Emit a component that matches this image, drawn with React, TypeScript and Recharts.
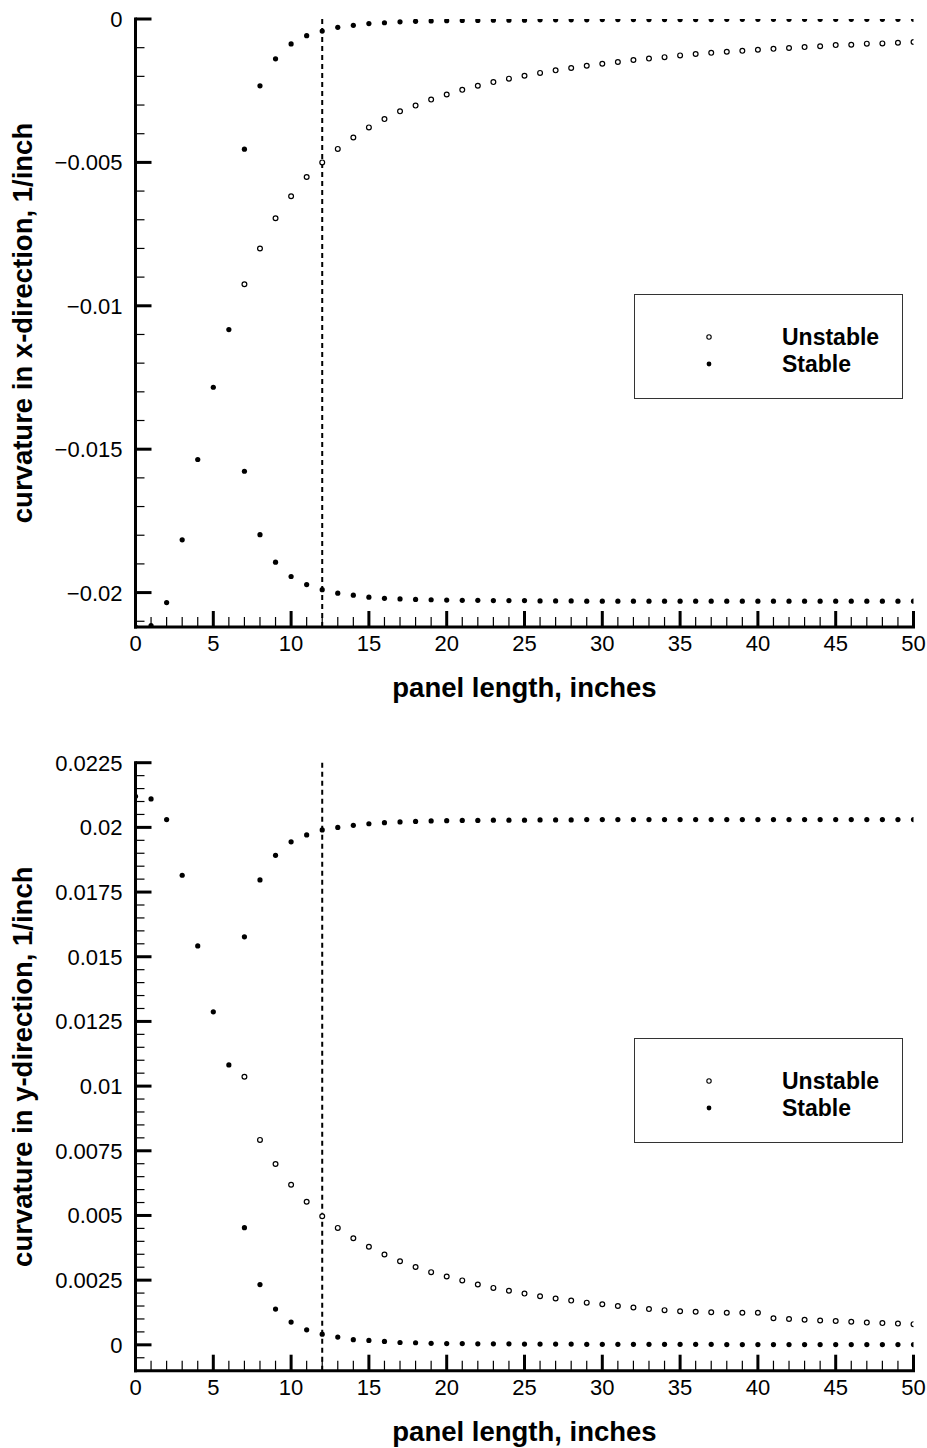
import React from 'react';
import { ScatterChart, Scatter, XAxis, YAxis, ReferenceLine, Legend, Label } from 'recharts';

// panel length, inches (x values of every point)
const panelLength = [
  0, 1, 2, 3, 4, 5, 6, 7, 8, 9, 10, 11, 12, 13, 14, 15, 16, 17, 18, 19, 20, 21, 22, 23, 24, 25,
  26, 27, 28, 29, 30, 31, 32, 33, 34, 35, 36, 37, 38, 39, 40, 41, 42, 43, 44, 45, 46, 47, 48, 49, 50,
];
// the two extra branches start at 7 inches
const branchLength = panelLength.slice(7);

// x-direction curvature, stable main branch (0..50 in)
const stableMainX = [
  -0.0212, -0.02115, -0.02035, -0.01816, -0.01536, -0.01284, -0.01083, -0.01577, -0.01798, -0.01894,
  -0.01944, -0.01972, -0.0199, -0.02002, -0.02009, -0.02016, -0.0202, -0.02022, -0.02024, -0.02025,
  -0.02026, -0.02027, -0.02027, -0.02028, -0.02028, -0.02028, -0.02029, -0.02029, -0.02029, -0.0203,
  -0.0203, -0.0203, -0.0203, -0.0203, -0.0203, -0.0203, -0.0203, -0.0203, -0.0203, -0.0203,
  -0.0203, -0.0203, -0.0203, -0.0203, -0.0203, -0.0203, -0.0203, -0.0203, -0.0203, -0.0203, -0.0203,
];
// x-direction curvature, stable branch near zero (7..50 in)
const stableBranchX = [
  -0.00454, -0.00233, -0.00139, -0.00087, -0.00058, -0.00042, -0.00029, -0.00022, -0.00016, -0.00013,
  -0.0001, -0.00008, -0.00007, -0.00006, -0.00005, -0.00005, -0.00004, -0.00004, -0.00004, -0.00003,
  -0.00003, -0.00003, -0.00003, -0.00002, -0.00002, -0.00002, -0.00002, -0.00002, -0.00002, -0.00002,
  -0.00002, -0.00001, -0.00001, -0.00001, -0.00001, -0.00001, -0.00001, -0.00001, -0.00001, -0.00001,
  -0.00001, -0.00001, -0.00001, -0.00001,
];
// x-direction curvature, unstable branch (7..50 in)
const unstableX = [
  -0.00925, -0.008, -0.00695, -0.00618, -0.00551, -0.005, -0.00453, -0.00413, -0.00378, -0.00349,
  -0.00322, -0.00302, -0.00281, -0.00263, -0.00247, -0.00233, -0.0022, -0.00208, -0.00198, -0.00188,
  -0.00179, -0.00171, -0.00163, -0.00156, -0.0015, -0.00143, -0.00138, -0.00133, -0.00127, -0.00122,
  -0.00118, -0.00114, -0.00111, -0.00107, -0.00104, -0.00101, -0.00098, -0.00095, -0.00091, -0.0009,
  -0.00086, -0.00085, -0.00083, -0.0008,
];

// y-direction curvature, stable main branch (0..50 in)
const stableMainY = [
  0.0212, 0.0211, 0.0203, 0.01815, 0.01542, 0.01287, 0.01082, 0.01577, 0.01797, 0.01892,
  0.01944, 0.01971, 0.0199, 0.02, 0.02008, 0.02014, 0.02018, 0.02021, 0.02023, 0.02025,
  0.02026, 0.02027, 0.02027, 0.02028, 0.02028, 0.02028, 0.02029, 0.02029, 0.02029, 0.0203,
  0.0203, 0.0203, 0.0203, 0.0203, 0.0203, 0.0203, 0.0203, 0.0203, 0.0203, 0.0203,
  0.0203, 0.0203, 0.0203, 0.0203, 0.0203, 0.0203, 0.0203, 0.0203, 0.0203, 0.0203, 0.0203,
];
// y-direction curvature, stable branch near zero (7..50 in)
const stableBranchY = [
  0.00453, 0.00233, 0.00138, 0.00088, 0.00058, 0.00041, 0.0003, 0.0002, 0.00017, 0.00013,
  0.00009, 0.00008, 0.00006, 0.00005, 0.00005, 0.00004, 0.00004, 0.00004, 0.00003, 0.00003,
  0.00003, 0.00003, 0.00002, 0.00002, 0.00002, 0.00002, 0.00002, 0.00002, 0.00002, 0.00002,
  0.00002, 0.00001, 0.00001, 0.00001, 0.00001, 0.00001, 0.00001, 0.00001, 0.00001, 0.00001,
  0.00001, 0.00001, 0.00001, 0.00001,
];
// y-direction curvature, unstable branch (7..50 in)
const unstableY = [
  0.01036, 0.00792, 0.00699, 0.00619, 0.00553, 0.00497, 0.00452, 0.00412, 0.00379, 0.00349,
  0.00323, 0.00301, 0.00281, 0.00264, 0.00249, 0.00233, 0.0022, 0.00209, 0.00198, 0.00188,
  0.00179, 0.00171, 0.00163, 0.00157, 0.0015, 0.00144, 0.00138, 0.00134, 0.0013, 0.00128,
  0.00126, 0.00124, 0.00124, 0.00124, 0.00103, 0.001, 0.00097, 0.00094, 0.00092, 0.00089,
  0.00086, 0.00084, 0.00082, 0.0008,
];

const seriesNames = ['Unstable', 'Stable'];

// ticks
const xMajorTicks = [0, 5, 10, 15, 20, 25, 30, 35, 40, 45, 50];
const xMinorTicks = panelLength.filter((v) => v % 5 !== 0);
const yMajorTicksX = [0, -0.005, -0.01, -0.015, -0.02];
const yMajorLabelsX = ['0', '\u22120.005', '\u22120.01', '\u22120.015', '\u22120.02'];
const yMajorTicksY = [0, 0.0025, 0.005, 0.0075, 0.01, 0.0125, 0.015, 0.0175, 0.02, 0.0225];
const yMajorLabelsY = ['0', '0.0025', '0.005', '0.0075', '0.01', '0.0125', '0.015', '0.0175', '0.02', '0.0225'];

const dividerLength = 12; // dashed line position, inches

const FONT = "'Liberation Sans', Arial, Helvetica, sans-serif";
const PLOT_HEIGHT = 608;
const TICK_FONT = 22;
const TITLE_FONT = 27.5;

function minorTicks(majors: number[], step: number, lo: number, hi: number) {
  const out: number[] = [];
  for (let k = Math.ceil(lo / step); k <= Math.floor(hi / step); k++) {
    const v = k * step;
    if (!majors.some((m) => Math.abs(m - v) < step / 10)) out.push(v);
  }
  return out;
}

const toPoints = (xs: number[], ys: number[]) => ys.map((y, i) => ({ x: xs[i], y }));

function findMajor(majors: number[], value: number) {
  return majors.findIndex((m) => Math.abs(m - value) < 1e-7);
}

function XTick(props: any) {
  const { x, y, payload } = props;
  const idx = findMajor(xMajorTicks, payload.value);
  const major = idx >= 0;
  return (
    <g>
      <line x1={x} x2={x} y1={y} y2={y - (major ? 16 : 10)} stroke="#000" strokeWidth={major ? 3 : 1.2} />
      {major && (
        <text x={x} y={y + 24} textAnchor="middle" fontFamily={FONT} fontSize={TICK_FONT} fill="#000">
          {String(xMajorTicks[idx])}
        </text>
      )}
    </g>
  );
}

function YTick(props: any) {
  const { x, y, payload, majors, labels } = props;
  const idx = findMajor(majors, payload.value);
  const major = idx >= 0;
  return (
    <g>
      <line x1={x} x2={x + (major ? 16 : 9)} y1={y} y2={y} stroke="#000" strokeWidth={major ? 3 : 1.2} />
      {major && (
        <text x={x - 13} y={y} dy="0.36em" textAnchor="end" fontFamily={FONT} fontSize={TICK_FONT} fill="#000">
          {labels[idx]}
        </text>
      )}
    </g>
  );
}

const openDot = (p: any) => <circle cx={p.cx} cy={p.cy} r={2.4} fill="#fff" stroke="#000" strokeWidth={1.2} />;
const filledDot = (p: any) => <circle cx={p.cx} cy={p.cy} r={2.6} fill="#000" />;

function LegendBox() {
  return (
    <div
      style={{
        width: 269,
        height: 105,
        boxSizing: 'border-box',
        border: '1px solid #333',
        background: '#fff',
      }}
    >
      <svg width={267} height={103} style={{ display: 'block' }}>
        <circle cx={74} cy={42} r={2.2} fill="#fff" stroke="#000" strokeWidth={1.1} />
        <circle cx={74} cy={69} r={2.4} fill="#000" />
        <text x={147} y={42} dy="0.36em" fontFamily={FONT} fontWeight="bold" fontSize={23} fill="#000">
          {seriesNames[0]}
        </text>
        <text x={147} y={69} dy="0.36em" fontFamily={FONT} fontWeight="bold" fontSize={23} fill="#000">
          {seriesNames[1]}
        </text>
      </svg>
    </div>
  );
}

type PanelProps = {
  top: number;
  height: number;
  marginTop: number;
  domain: [number, number];
  majors: number[];
  labels: string[];
  minorStep: number;
  title: string;
  stableMain: number[];
  stableBranch: number[];
  unstable: number[];
  legendTop: number;
};

function CurvaturePanel(props: PanelProps) {
  const { top, height, marginTop, domain, majors, labels, minorStep, title, stableMain, stableBranch, unstable, legendTop } = props;
  const xAxisHeight = height - marginTop - PLOT_HEIGHT;
  const yTicks = [...majors, ...minorTicks(majors, minorStep, domain[0], domain[1])];
  const stablePoints = [...toPoints(panelLength, stableMain), ...toPoints(branchLength, stableBranch)];
  const unstablePoints = toPoints(branchLength, unstable);

  return (
    <div style={{ position: 'absolute', left: 0, top }}>
      <ScatterChart width={927} height={height} margin={{ top: marginTop, right: 13.5, bottom: 0, left: 0 }}>
        <XAxis
          type="number"
          dataKey="x"
          domain={[0, 50]}
          allowDataOverflow
          ticks={[...xMajorTicks, ...xMinorTicks]}
          interval={0}
          tickSize={0}
          tickMargin={0}
          height={xAxisHeight}
          tickLine={false}
          axisLine={{ stroke: '#000', strokeWidth: 3, strokeLinecap: 'square' }}
          tick={(p: any) => <XTick {...p} />}
        >
          <Label
            content={(lp: any) => {
              const vb = lp.viewBox || {};
              return (
                <text
                  x={vb.x + vb.width / 2}
                  y={vb.y + 70}
                  textAnchor="middle"
                  fontFamily={FONT}
                  fontWeight="bold"
                  fontSize={TITLE_FONT}
                  fill="#000"
                >
                  panel length, inches
                </text>
              );
            }}
          />
        </XAxis>
        <YAxis
          type="number"
          dataKey="y"
          domain={domain}
          allowDataOverflow
          ticks={yTicks}
          interval={0}
          tickSize={0}
          tickMargin={0}
          width={135.5}
          tickLine={false}
          axisLine={{ stroke: '#000', strokeWidth: 3, strokeLinecap: 'square' }}
          tick={(p: any) => <YTick {...p} majors={majors} labels={labels} />}
        >
          <Label
            content={(lp: any) => {
              const vb = lp.viewBox || {};
              const cx = vb.x + 22;
              const cy = vb.y + vb.height / 2;
              return (
                <text
                  x={cx}
                  y={cy}
                  dy="0.36em"
                  transform={`rotate(-90, ${cx}, ${cy})`}
                  textAnchor="middle"
                  fontFamily={FONT}
                  fontWeight="bold"
                  fontSize={TITLE_FONT}
                  fill="#000"
                >
                  {title}
                </text>
              );
            }}
          />
        </YAxis>
        <ReferenceLine x={dividerLength} stroke="#000" strokeWidth={2} strokeDasharray="5 4" />
        <Scatter name={seriesNames[1]} data={stablePoints} shape={filledDot} isAnimationActive={false} />
        <Scatter name={seriesNames[0]} data={unstablePoints} shape={openDot} isAnimationActive={false} />
        <Legend
          layout="horizontal"
          align="center"
          verticalAlign="middle"
          wrapperStyle={{ left: 634, top: legendTop, width: 269, height: 105 }}
          content={() => <LegendBox />}
        />
      </ScatterChart>
    </div>
  );
}

export default function App() {
  return (
    <div style={{ position: 'absolute', left: 0, top: 0, width: 927, height: 1448, background: '#fff' }}>
      <CurvaturePanel
        top={0}
        height={720}
        marginTop={19}
        domain={[-0.0212, 0]}
        majors={yMajorTicksX}
        labels={yMajorLabelsX}
        minorStep={0.001}
        title="curvature in x-direction, 1/inch"
        stableMain={stableMainX}
        stableBranch={stableBranchX}
        unstable={unstableX}
        legendTop={294}
      />
      <CurvaturePanel
        top={720}
        height={728}
        marginTop={42.7}
        domain={[-0.001, 0.0225]}
        majors={yMajorTicksY}
        labels={yMajorLabelsY}
        minorStep={0.0005}
        title="curvature in y-direction, 1/inch"
        stableMain={stableMainY}
        stableBranch={stableBranchY}
        unstable={unstableY}
        legendTop={318}
      />
    </div>
  );
}
